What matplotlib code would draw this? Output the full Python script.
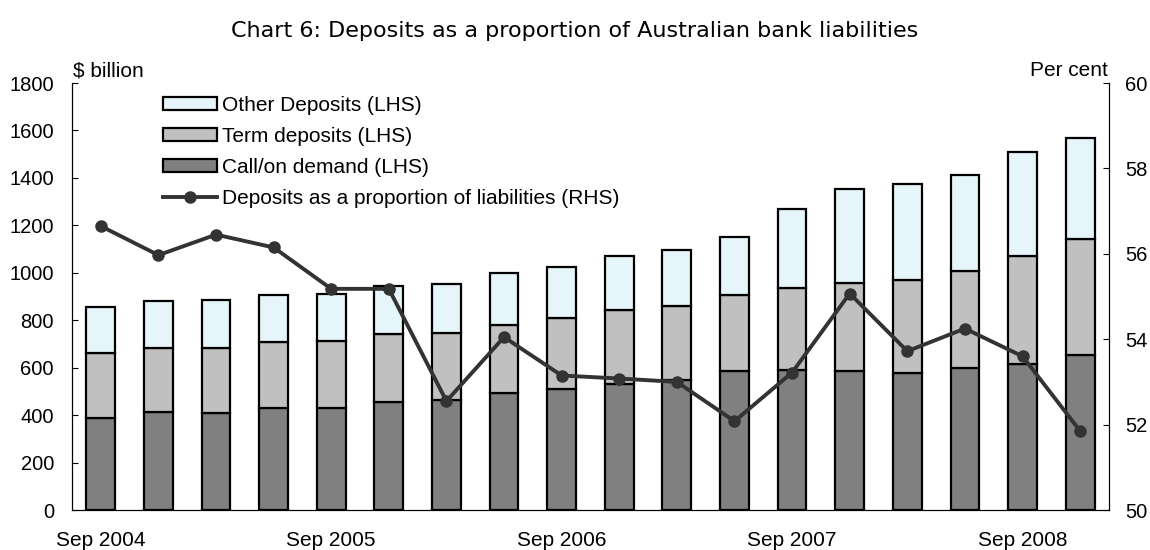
import numpy as np
import matplotlib
matplotlib.use("Agg")
import matplotlib.pyplot as plt

# quarterly observations, Sep 2004 - Dec 2008 ($ billion, cumulative stack tops)
quarters = ["Sep 2004", "Dec 2004", "Mar 2005", "Jun 2005", "Sep 2005", "Dec 2005",
            "Mar 2006", "Jun 2006", "Sep 2006", "Dec 2006", "Mar 2007", "Jun 2007",
            "Sep 2007", "Dec 2007", "Mar 2008", "Jun 2008", "Sep 2008", "Dec 2008"]
call_demand = [390, 415, 410, 432, 430, 457, 465, 495, 510, 532, 550, 585,
               590, 588, 578, 598, 615, 652]
term_top = [660, 685, 685, 710, 713, 743, 745, 780, 810, 843, 862, 908,
            938, 957, 968, 1008, 1072, 1143]
total = [857, 882, 885, 908, 912, 945, 953, 1000, 1025, 1070, 1098, 1152,
         1268, 1355, 1375, 1413, 1508, 1570]
# deposits as a share of liabilities, per cent
share = [56.65, 55.97, 56.45, 56.15, 55.18, 55.18, 52.55, 54.05, 53.15, 53.08,
         53.0, 52.08, 53.22, 55.07, 53.72, 54.25, 53.6, 51.85]

term = np.array(term_top) - np.array(call_demand)
other = np.array(total) - np.array(term_top)

plt.rcParams['font.family'] = ['Liberation Sans', 'DejaVu Sans']

fig = plt.figure(figsize=(11.5, 5.5), dpi=100)
ax = fig.add_axes([0.0626, 0.0727, 0.9017, 0.7763])
ax2 = ax.twinx()

x = np.arange(len(quarters))
w = 0.5
bar_kw = dict(width=w, edgecolor='black', linewidth=1.6, zorder=2)
ax.bar(x, call_demand, color='#808080', label='Call/on demand (LHS)', **bar_kw)
ax.bar(x, term, bottom=call_demand, color='#c0c0c0', label='Term deposits (LHS)', **bar_kw)
ax.bar(x, other, bottom=term_top, color='#e6f5fa', label='Other Deposits (LHS)', **bar_kw)

ax2.plot(x, share, color='#333333', linewidth=2.8, marker='o', markersize=8,
         label='Deposits as a proportion of liabilities (RHS)', zorder=3)

ax.set_xlim(-0.5, 17.5)
ax.set_ylim(0, 1800)
ax.set_yticks(np.arange(0, 1801, 200))
ax2.set_ylim(50, 60)
ax2.set_yticks(np.arange(50, 61, 2))

ax.set_xticks([0, 4, 8, 12, 16])
ax.set_xticklabels([quarters[i] for i in [0, 4, 8, 12, 16]])
ax.tick_params(axis='x', length=0, labelsize=15, pad=15)
ax.tick_params(axis='y', direction='in', length=4, labelsize=14.5, pad=13)
ax2.tick_params(axis='y', direction='in', length=4, labelsize=14.5, pad=11.5)

for a in (ax, ax2):
    a.spines['top'].set_visible(False)
    for s in ('left', 'right', 'bottom'):
        a.spines[s].set_linewidth(0.8)

ax.text(0.001, 1.006, '$ billion', transform=ax.transAxes, fontsize=15,
        ha='left', va='bottom')
ax2.text(0.999, 1.006, 'Per cent', transform=ax2.transAxes, fontsize=15,
         ha='right', va='bottom')

fig.suptitle('Chart 6: Deposits as a proportion of Australian bank liabilities',
             x=0.5, y=0.962, fontsize=16, family='DejaVu Sans')

h1, l1 = ax.get_legend_handles_labels()
h2, l2 = ax2.get_legend_handles_labels()
handles = [h1[2], h1[1], h1[0], h2[0]]
labels = [l1[2], l1[1], l1[0], l2[0]]
ax2.legend(handles, labels, loc='upper left', bbox_to_anchor=(0.0878, 0.97),
           frameon=False, fontsize=15, handlelength=2.6, handleheight=0.6,
           handletextpad=0.25, labelspacing=0.58, borderaxespad=0, borderpad=0)

fig.savefig('out.png', dpi=100)
